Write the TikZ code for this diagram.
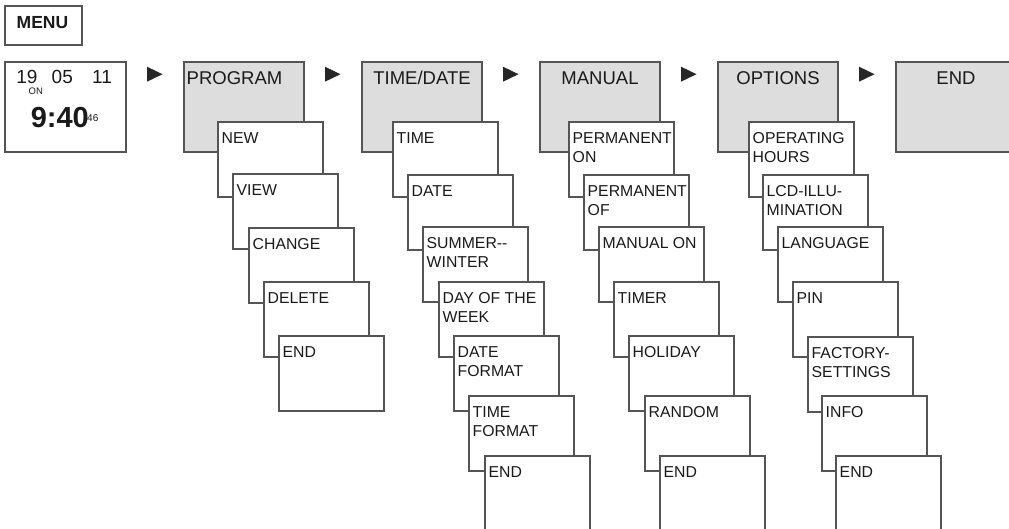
\documentclass[tikz,border=0pt]{standalone}
\usepackage{fontspec}
\setmainfont{Liberation Sans}
\definecolor{lc}{HTML}{555555}
\definecolor{hf}{HTML}{DDDDDD}
\definecolor{tc}{HTML}{1A1A1A}
\tikzset{
  subbox/.style={draw=lc, fill=white, line width=1.2pt, minimum width=105pt, minimum height=75pt, inner sep=0pt, outer sep=0pt, anchor=north west},
  headbox/.style={draw=lc, fill=hf, line width=1.2pt, minimum width=120pt, minimum height=90pt, inner sep=0pt, outer sep=0pt, anchor=north west},
  plainbox/.style={draw=lc, fill=white, line width=1.2pt, inner sep=0pt, outer sep=0pt, anchor=north west},
  sublbl/.style={anchor=base west, inner sep=0pt, text=tc, font=\fontsize{15.8}{19}\selectfont},
  headlbl/.style={anchor=base, inner sep=0pt, text=tc, font=\fontsize{18.5}{21}\selectfont},
  tri/.style={fill=black!85}
}
\newcommand\subbx[4]{%
  \node[subbox] (#1) at (#2,#3) {};
  \node[sublbl] (#1-a) at (#2+3.5,#3+21.5) {#4};
}
\newcommand\subbxii[5]{%
  \node[subbox] (#1) at (#2,#3) {};
  \node[sublbl] (#1-a) at (#2+3.5,#3+21.5) {#4};
  \node[sublbl] (#1-b) at (#2+3.5,#3+40.5) {#5};
}
\newcommand\headbx[4]{%
  \node[headbox] (#1) at (#2,62) {};
  \node[headlbl] (#1-l) at (#3,84) {#4};
}
\newcommand\tri[1]{%
  \fill[tri] (#1,66.7) -- (#1+15.5,74.2) -- (#1,81.7) -- cycle;
}
\begin{document}
\begin{tikzpicture}[x=1pt,y=-1pt]
\useasboundingbox (0,0) rectangle (1009,528);
\clip (0,0) rectangle (1009,528);
% MENU
\node[plainbox, minimum width=77pt, minimum height=39pt] (menu) at (5,6) {};
\node[anchor=base, inner sep=0pt, text=tc, font=\fontsize{17.5}{20}\selectfont\bfseries] (menu-l) at (42.5,28.5) {MENU};
% clock display
\node[plainbox, minimum width=121pt, minimum height=90pt] (clock) at (5,62) {};
\node[anchor=base west, inner sep=0pt, text=tc, font=\fontsize{19}{22}\selectfont] (c19) at (16.2,83.5) {19};
\node[anchor=base west, inner sep=0pt, text=tc, font=\fontsize{19}{22}\selectfont] (c05) at (51.5,83.5) {05};
\node[anchor=base west, inner sep=0pt, text=tc, font=\fontsize{19}{22}\selectfont] (c11) at (92,83.5) {11};
\node[anchor=base west, inner sep=0pt, text=tc, font=\fontsize{9.5}{11}\selectfont] (con) at (28.5,94) {ON};
\node[anchor=base west, inner sep=0pt, text=tc, font=\fontsize{29}{32}\selectfont\bfseries] (ctime) at (30.6,127.3) {9:40};
\node[anchor=base west, inner sep=0pt, text=tc, font=\fontsize{10}{12}\selectfont] (csec) at (87,121) {46};
% arrows
\tri{147}
\tri{325}
\tri{503}
\tri{681}
\tri{859}
% headers
\node[headbox] (prog) at (184,62) {};
\node[headlbl, anchor=base west] (prog-l) at (186.5,84) {PROGRAM};
\headbx{td}{362}{422}{TIME/DATE}
\headbx{man}{540}{600}{MANUAL}
\headbx{opt}{718}{778}{OPTIONS}
\headbx{end}{896}{956}{END}
% PROGRAM column
\subbx{p1}{218}{122}{NEW}
\subbx{p2}{233}{174}{VIEW}
\subbx{p3}{249}{228}{CHANGE}
\subbx{p4}{264}{282}{DELETE}
\subbx{p5}{279}{336}{END}
% TIME/DATE column
\subbx{t1}{393}{122}{TIME}
\subbx{t2}{408}{175}{DATE}
\subbxii{t3}{423}{227}{SUMMER-{}-}{WINTER}
\subbxii{t4}{439}{282}{DAY OF THE}{WEEK}
\subbxii{t5}{454}{336}{DATE}{FORMAT}
\subbxii{t6}{469}{396}{TIME}{FORMAT}
\subbx{t7}{485}{456}{END}
% MANUAL column
\subbxii{m1}{569}{122}{PERMANENT}{ON}
\subbxii{m2}{584}{175}{PERMANENT}{OF}
\subbx{m3}{599}{227}{MANUAL ON}
\subbx{m4}{614}{282}{TIMER}
\subbx{m5}{629}{336}{HOLIDAY}
\subbx{m6}{645}{396}{RANDOM}
\subbx{m7}{660}{456}{END}
% OPTIONS column
\subbxii{o1}{749}{122}{OPERATING}{HOURS}
\subbxii{o2}{763}{175}{LCD-ILLU-}{MINATION}
\subbx{o3}{778}{227}{LANGUAGE}
\subbx{o4}{793}{282}{PIN}
\subbxii{o5}{808}{337}{FACTORY-}{SETTINGS}
\subbx{o6}{822}{396}{INFO}
\subbx{o7}{836}{456}{END}
\end{tikzpicture}
\end{document}
